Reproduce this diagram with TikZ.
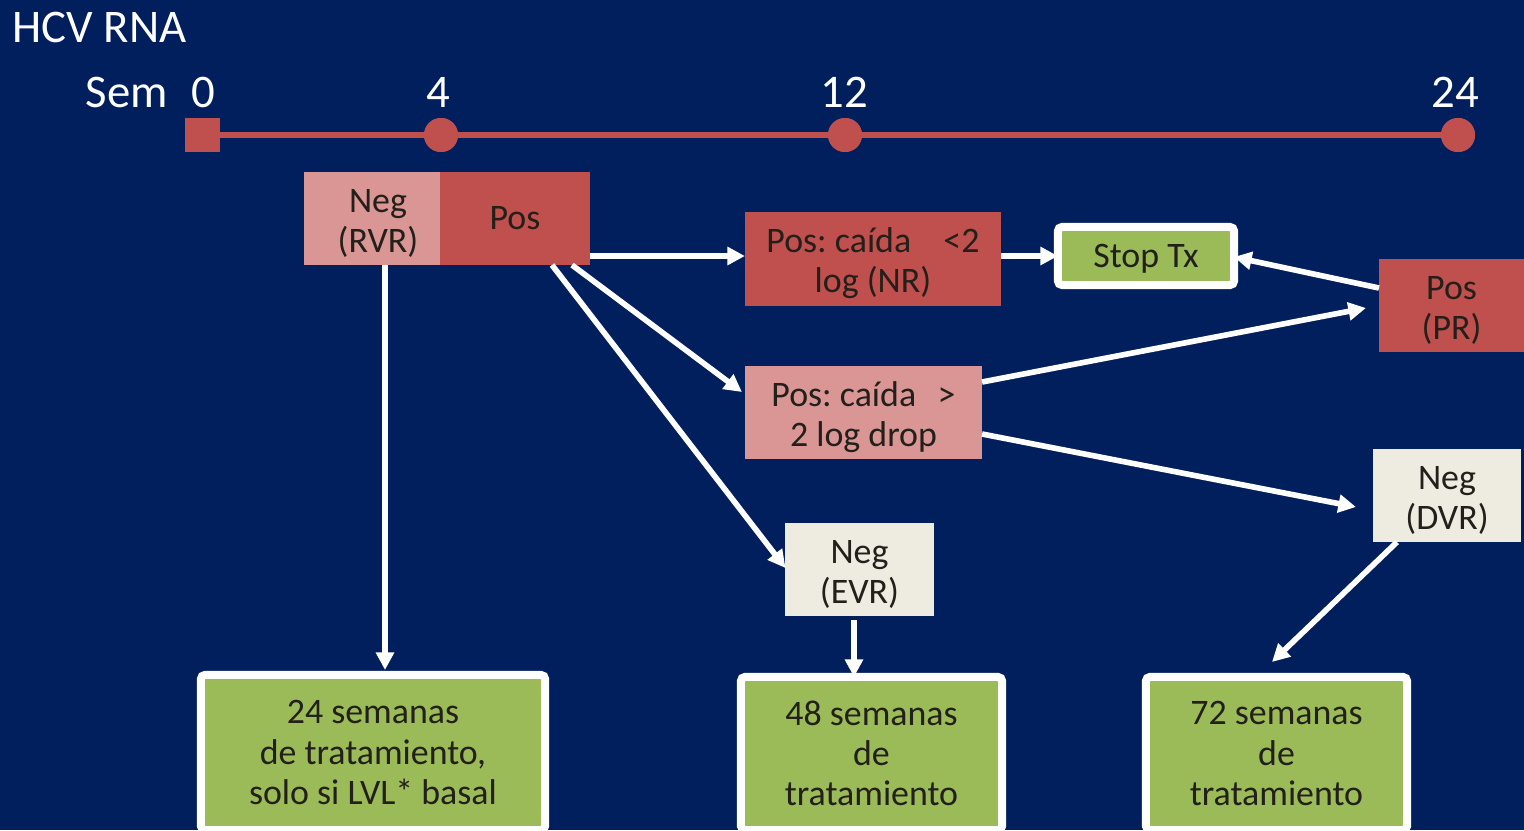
\documentclass[tikz,border=0pt]{standalone}
\usepackage{fontspec}
\setmainfont{Carlito}
\frenchspacing
\usetikzlibrary{calc,arrows.meta}
\definecolor{bgblue}{RGB}{1,31,92}
\definecolor{pptred}{HTML}{C0504D}
\definecolor{pptpink}{HTML}{D99694}
\definecolor{pptgreen}{HTML}{9BBB59}
\definecolor{pptcream}{HTML}{EEECE1}
\definecolor{txtdark}{HTML}{231F1A}
\newcommand\twoline[2]{\rule{0pt}{11pt}#1\\#2\rule[-3.3pt]{0pt}{3.3pt}}
\tikzset{
  box/.style={draw=none, inner sep=0pt, outer sep=0pt, text=txtdark, align=center,
    font=\fontsize{10.2}{11.4}\selectfont},
  redbox/.style={box, fill=pptred},
  pinkbox/.style={box, fill=pptpink},
  creambox/.style={box, fill=pptcream},
  greenbox/.style={box, fill=pptgreen, draw=white, line width=0.08cm, rounded corners=0.04cm},
  arr/.style={draw=white, line width=1.6pt, -{Triangle[length=5pt,width=5pt]}},
  bigtxt/.style={text=white, inner sep=0pt, font=\fontsize{13.3}{15}\selectfont},
  tick/.style={circle, fill=pptred, minimum size=0.34cm, inner sep=0pt}
}
\begin{document}
\begin{tikzpicture}[x=0.01cm,y=-0.01cm]
\fill[bgblue] (0,0) rectangle (1524,830);
\useasboundingbox (0,0) rectangle (1524,830);
\clip (0,0) rectangle (1524,830);

% title and timeline labels
\node[bigtxt, anchor=base west] (title) at (12,42) {HCV RNA};
\node[bigtxt, anchor=base west] (sem) at (85,107) {Sem};
\node[bigtxt, anchor=base] (l0) at (203,107) {0};
\node[bigtxt, anchor=base] (l4) at (438,107) {4};
\node[bigtxt, anchor=base] (l12) at (844,107) {12};
\node[bigtxt, anchor=base] (l24) at (1455,107) {24};

% timeline
\node[fill=pptred, minimum size=0.34cm, inner sep=0pt] (t0) at (202.5,135) {};
\node[tick] (t4) at (441,135) {};
\node[tick] (t12) at (845,135) {};
\node[tick] (t24) at (1458,135) {};
\draw[pptred, line width=0.06cm] (t0.center) -- (t24.center);
\node[fill=pptred, minimum size=0.34cm, inner sep=0pt] at (t0) {};
\node[tick] at (t4) {};
\node[tick] at (t12) {};
\node[tick] at (t24) {};

% week 4 boxes
\node[pinkbox, minimum width=1.36cm, minimum height=0.93cm] (rvr) at (372,218.5) {\twoline{\hspace*{0.12cm}Neg}{\hspace*{0.12cm}(RVR)}};
\node[redbox, minimum width=1.50cm, minimum height=0.93cm] (pos) at (515,218.5) {Pos};

% week 12 boxes
\node[redbox, minimum width=2.56cm, minimum height=0.93cm] (nr) at (873,259) {\twoline{Pos: caída\hspace{0.9em}<2}{log (NR)}};
\node[pinkbox, minimum width=2.37cm, minimum height=0.93cm] (lo) at (863.5,412.5) {\twoline{Pos: caída\hspace{0.6em}>}{2 log drop}};
\node[creambox, minimum width=1.48cm, minimum height=0.93cm] (evr) at (859.5,569.5) {\twoline{Neg}{(EVR)}};
\node[greenbox, minimum width=1.76cm, minimum height=0.58cm, text height=9pt, text depth=2.2pt] (stop) at (1146,256) {Stop Tx};

% week 24 boxes
\node[redbox, minimum width=1.45cm, minimum height=0.93cm] (pr) at (1451.5,305.5) {\twoline{Pos}{(PR)}};
\node[creambox, minimum width=1.48cm, minimum height=0.93cm] (dvr) at (1447,495.5) {\twoline{Neg}{(DVR)}};

% outcome boxes
\node[greenbox, minimum width=3.44cm, minimum height=1.55cm] (b24) at (373,752.5) {24 semanas\\de tratamiento,\\solo si LVL* basal};
\node[greenbox, minimum width=2.61cm, minimum height=1.53cm] (b48) at (871.5,753.5) {48 semanas\\de\\tratamiento};
\node[greenbox, minimum width=2.61cm, minimum height=1.53cm] (b72) at (1276.5,753.5) {72 semanas\\de\\tratamiento};

% connectors
\draw[arr] ($(rvr.south)+(13,0)$) -- ($(b24.north)+(12,-5)$);
\draw[arr] ($(pos.east)+(0,37.5)$) -- ($(nr.west)+(0,-3)$);
\draw[arr] ($(pos.south)+(57,0)$) -- ($(lo.west)+(-3,-20.5)$);
\draw[arr] ($(pos.south)+(37,0)$) -- ($(evr.west)+(0,-1.5)$);
\draw[arr] ($(nr.east)+(0,-3)$) -- (stop.west);
\draw[arr] ($(pr.west)+(0,-17.5)$) -- ($(stop.east)+(0,1)$);
\draw[arr] ($(lo.east)+(0,-30.5)$) -- ($(pr.west)+(-13,2.5)$);
\draw[arr] ($(lo.east)+(0,21.5)$) -- ($(dvr.west)+(-17,11.5)$);
\draw[arr] ($(dvr.south)+(-50,0)$) -- ($(b72.north)+(-4.5,-15)$);
\draw[arr] ($(evr.south)+(-5.5,4)$) -- ($(b48.north)+(-17.5,0)$);
\end{tikzpicture}
\end{document}
